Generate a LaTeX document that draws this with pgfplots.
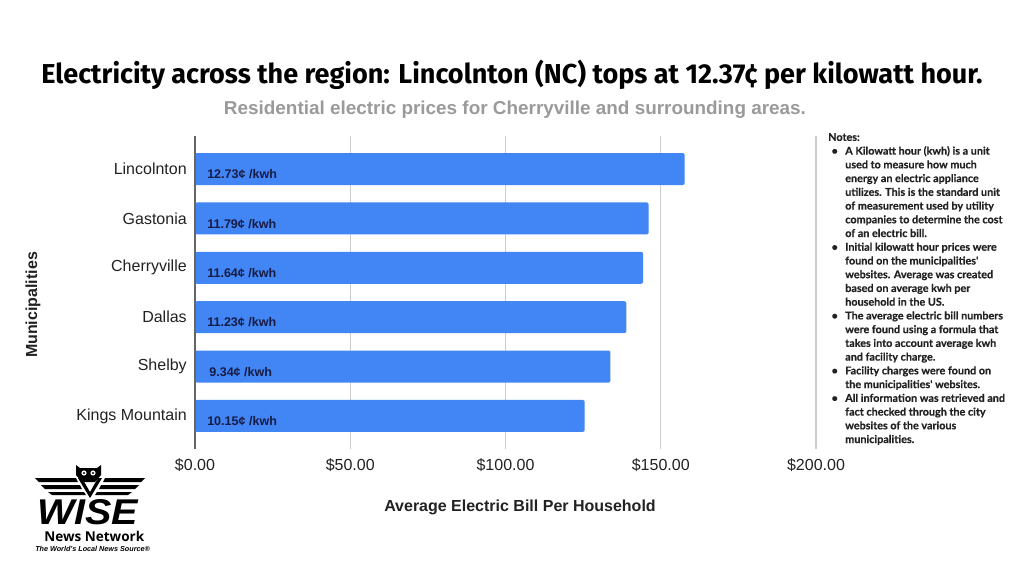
\documentclass[border=0pt]{standalone}
\usepackage{pgfplots}
\pgfplotsset{compat=1.18}
\usepackage{graphicx}
\usepackage{fontspec}
\setmainfont{Liberation Sans}
\newfontfamily\titlefont{Fira Sans}
\newfontfamily\notesfont{Lato}
\newfontfamily\logofont{Open Sans}
\definecolor{barblue}{HTML}{4285F4}
\definecolor{labnavy}{HTML}{171C45}
\definecolor{gridgray}{HTML}{CCCCCC}
\definecolor{axisgray}{HTML}{666666}
\definecolor{subgray}{HTML}{9A9A9A}
\definecolor{txt}{HTML}{222222}
\begin{document}
\begin{tikzpicture}[x=0.75pt,y=0.75pt]
\path[use as bounding box, fill=white] (0,0) rectangle (1024,-577);
\begin{axis}[
  at={(146.25pt,-336.75pt)}, anchor=south west,
  scale only axis, width=465.75pt, height=234.75pt,
  xmin=0, xmax=200, ymin=-0.67, ymax=5.67,
  axis line style={draw=none},
  xtick={0,50,100,150,200},
  xticklabels={\$0.00,\$50.00,\$100.00,\$150.00,\$200.00},
  ytick={0,1,2,3,4,5},
  yticklabels={Kings Mountain,Shelby,Dallas,Cherryville,Gastonia,Lincolnton},
  major tick length=0pt,
  xmajorgrids, grid style={gridgray, line width=1pt},
  tick label style={font=\fontsize{12}{14}\selectfont, text=txt},
  yticklabel style={anchor=east, inner sep=0pt, xshift=-6pt},
  xticklabel style={anchor=north, inner sep=0pt, yshift=-7pt},
  clip=false,
]
\addplot[xbar, bar width=24pt, fill=barblue, draw=none, rounded corners=1.5pt]
  coordinates {(125.5,0) (133.8,1) (138.9,2) (144.3,3) (146.1,4) (157.7,5)};
\addplot[draw=none, mark=none, nodes near coords, point meta=explicit symbolic,
  every node near coord/.style={anchor=west, inner sep=0pt, xshift=9pt, yshift=-4pt,
    font=\fontsize{9.4}{11}\selectfont\bfseries, text=labnavy}]
  coordinates {(0,0) [10.15¢ /kwh] (0,1) [\,9.34¢ /kwh] (0,2) [11.23¢ /kwh]
               (0,3) [11.64¢ /kwh] (0,4) [11.79¢ /kwh] (0,5) [12.73¢ /kwh]};
\draw[axisgray, line width=1.1pt] (axis cs:0,-0.67) -- (axis cs:0,5.67);
\end{axis}
% titles
\node[text=black] at (512,-75) {\resizebox{705.75pt}{\height}{\titlefont\bfseries\fontsize{20.5}{24}\selectfont Electricity across the region: Lincolnton (NC) tops at 12.37¢ per kilowatt hour.}};
\node[text=subgray] at (515,-110) {\resizebox{436.5pt}{\height}{\bfseries\fontsize{14}{16}\selectfont Residential electric prices for Cherryville and surrounding areas.}};
% axis labels
\node[text=txt, font=\fontsize{12}{14}\selectfont\bfseries] at (520,-507) {Average Electric Bill Per Household};
\node[text=txt, font=\fontsize{12}{14}\selectfont\bfseries, rotate=90] at (33,-305) {Municipalities};
% notes
\node[anchor=north west, inner sep=0pt, text=txt] at (828,-131) {\notesfont\bfseries\addfontfeature{FakeBold=0.4}\fontsize{8.1}{10.3}\selectfont
\begin{tabular}{@{}l@{}l@{}}
\multicolumn{2}{@{}l@{}}{Notes:}\\
\makebox[12.75pt][l]{\hspace{2.5pt}\textbullet} & A Kilowatt hour (kwh) is a unit\\
 & used to measure how much\\
 & energy an electric appliance\\
 & utilizes. This is the standard unit\\
 & of measurement used by utility\\
 & companies to determine the cost\\
 & of an electric bill.\\
\makebox[12.75pt][l]{\hspace{2.5pt}\textbullet} & Initial kilowatt hour prices were\\
 & found on the municipalities'\\
 & websites. Average was created\\
 & based on average kwh per\\
 & household in the US.\\
\makebox[12.75pt][l]{\hspace{2.5pt}\textbullet} & The average electric bill numbers\\
 & were found using a formula that\\
 & takes into account average kwh\\
 & and facility charge.\\
\makebox[12.75pt][l]{\hspace{2.5pt}\textbullet} & Facility charges were found on\\
 & the municipalities' websites.\\
\makebox[12.75pt][l]{\hspace{2.5pt}\textbullet} & All information was retrieved and\\
 & fact checked through the city\\
 & websites of the various\\
 & municipalities.
\end{tabular}};
% logo
\fill[black] (76,-465) -- (80,-468) -- (97,-468) -- (101,-465) -- (101,-475) -- (95,-482) -- (82,-482) -- (76,-475) -- cycle;
\fill[white] (84,-473) circle (2.6);
\fill[white] (93,-473) circle (2.6);
\fill[black] (84,-473) circle (1.1);
\fill[black] (93,-473) circle (1.1);
\fill[black] (35,-478) -- (76,-478) -- (78,-482) -- (39,-482) -- cycle;
\fill[black] (41,-485) -- (80,-485) -- (82,-489) -- (45,-489) -- cycle;
\fill[black] (48,-492) -- (84,-492) -- (86,-495) -- (52,-495) -- cycle;
\fill[black] (145,-478) -- (105,-478) -- (103,-482) -- (141,-482) -- cycle;
\fill[black] (139,-485) -- (101,-485) -- (99,-489) -- (135,-489) -- cycle;
\fill[black] (132,-492) -- (97,-492) -- (95,-495) -- (128,-495) -- cycle;
\fill[black] (78,-478) -- (82,-478) -- (90,-492) -- (98,-478) -- (102,-478) -- (90,-498) -- cycle;
\node[anchor=south west, inner sep=0pt] at (37,-525) {\resizebox{75.75pt}{18.75pt}{\bfseries\itshape WISE}};
\node[anchor=base west, inner sep=0pt] at (44,-541) {\resizebox{75pt}{!}{\logofont\bfseries News Network}};
\node[anchor=base west, inner sep=0pt] at (35,-551) {\resizebox{86pt}{!}{\bfseries\itshape The World's Local News Source®}};
\end{tikzpicture}
\end{document}
